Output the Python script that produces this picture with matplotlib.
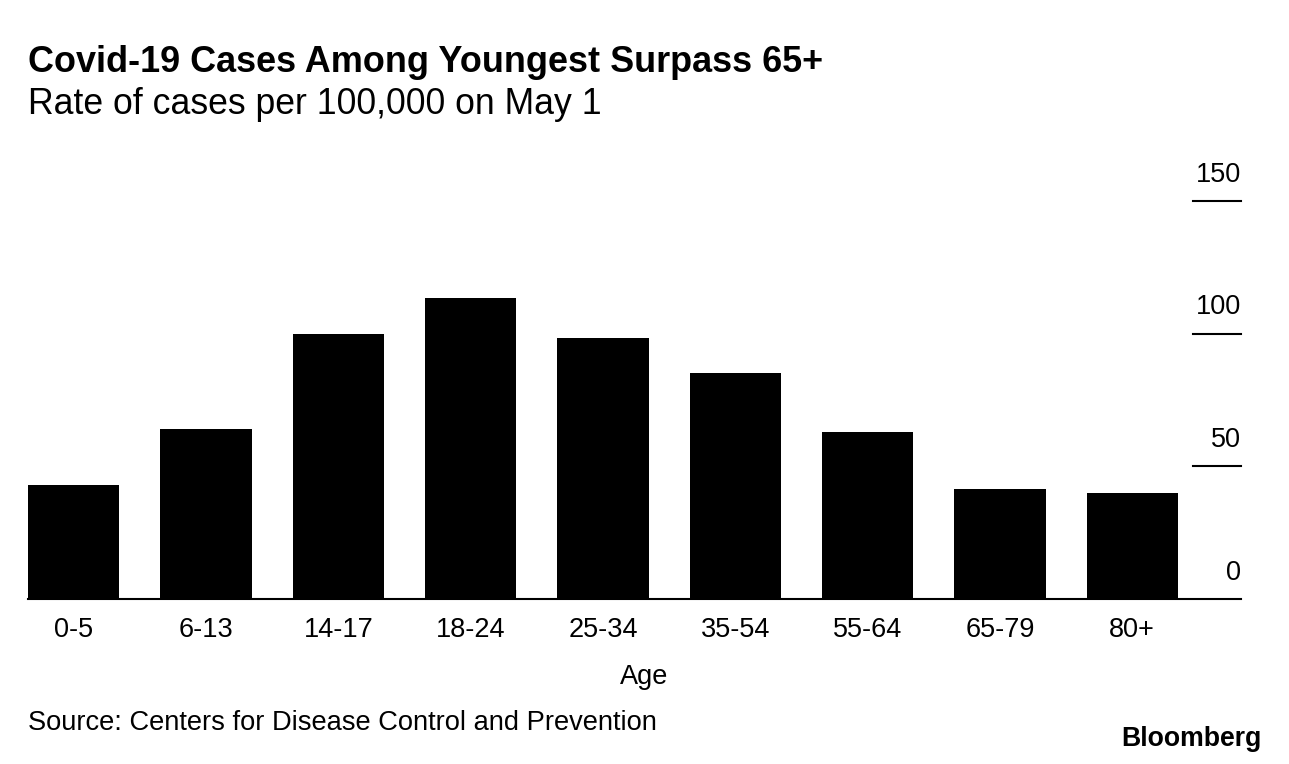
import matplotlib.pyplot as plt
from matplotlib.transforms import blended_transform_factory

plt.rcParams['font.family'] = ['Liberation Sans', 'DejaVu Sans']

ages = ["0-5", "6-13", "14-17", "18-24", "25-34", "35-54", "55-64", "65-79", "80+"]
rates = [43, 64, 100, 113.5, 98.5, 85, 63, 41.5, 40]
yticks = [0, 50, 100, 150]

W, H = 1289, 764
fig = plt.figure(figsize=(W / 100, H / 100), dpi=100)
ax = fig.add_axes([28 / W, 1 - 599 / H, (1241 - 28) / W, (599 - 201) / H])

x = list(range(len(ages)))
ax.bar(x, rates, width=0.69, color="black", zorder=2)
ax.set_xlim(-0.345, len(ages) - 1 + 0.822)
ax.set_ylim(0, 150)

for s in ["top", "left", "right"]:
    ax.spines[s].set_visible(False)
ax.spines["bottom"].set_linewidth(1.5)
ax.set_yticks([])
ax.set_xticks(x)
ax.set_xticklabels(ages, fontsize=19.5)
ax.tick_params(axis="x", length=0, pad=13)

# right-hand value markers: short line with label above
tr = blended_transform_factory(ax.transAxes, ax.transData)
for v in yticks:
    if v > 0:
        ax.plot([1 - 48 / 1213, 1], [v, v], color="black", lw=1.5,
                transform=tr, clip_on=False)
    ax.text(1, v + 5, str(v), transform=tr, ha="right", va="bottom",
            fontsize=19.5)

fig.text(644 / W, 1 - 677 / H, "Age", fontsize=19.5, va="center", ha="center")
fig.text(28 / W, 1 - 62 / H, "Covid-19 Cases Among Youngest Surpass 65+",
         fontsize=25.9, fontweight="bold", va="center", ha="left")
fig.text(28 / W, 1 - 104 / H, "Rate of cases per 100,000 on May 1",
         fontsize=25.7, va="center", ha="left")
fig.text(28 / W, 1 - 723 / H, "Source: Centers for Disease Control and Prevention",
         fontsize=19.6, va="center", ha="left")
fig.text(1262 / W, 1 - 739 / H, "Bloomberg", fontsize=19.2, fontweight="bold",
         va="center", ha="right")

plt.savefig("out.png", dpi=100)
